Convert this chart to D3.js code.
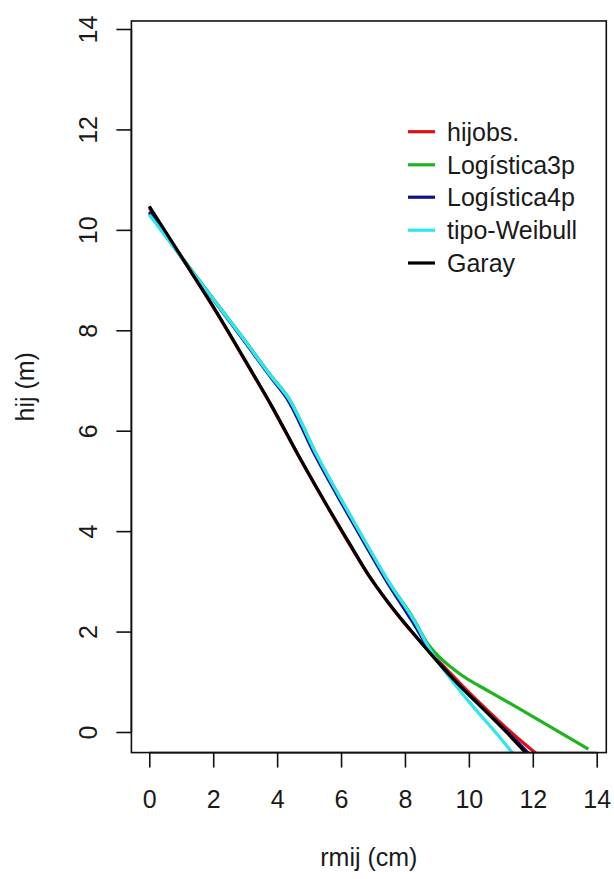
<!DOCTYPE html>
<html>
<head>
<meta charset="utf-8">
<script src="https://cdn.jsdelivr.net/npm/d3@7"></script>
<style>
  body { margin: 0; background: #fff; }
  text { font-family: "Liberation Sans", Arial, sans-serif; fill: #1a1a1a; }
</style>
</head>
<body>
<div id="chart"></div>
<script>
const WIDTH = 614;
const HEIGHT = 879;
const FONT_SIZE = 25;
const LINE_WIDTH = 3.2;

// tick values on both axes
const X_TICKS = [0, 2, 4, 6, 8, 10, 12, 14];
const Y_TICKS = [0, 2, 4, 6, 8, 10, 12, 14];

// series names and colors (legend order)
const SERIES_NAMES = ['hijobs.', 'Logística3p', 'Logística4p', 'tipo-Weibull', 'Garay'];
const SERIES_COLORS = ['#e01010', '#1fb41f', '#10108a', '#2ee6f0', '#000000'];

// [rmij (cm), hij (m)]
const HIJOBS = [[0, 10.44], [1, 9.46], [2, 8.46], [3, 7.39], [3.85, 6.46], [4.7, 5.46], [5.55, 4.51],
  [6.25, 3.75], [6.85, 3.13], [7.45, 2.6], [8.16, 2.03], [9.0, 1.45], [9.8, 0.92], [10.6, 0.42],
  [11.4, -0.05], [12.2, -0.48]];
const LOGISTICA3P = [[0, 10.33], [1, 9.47], [2, 8.63], [3, 7.79], [3.85, 7.06], [4.35, 6.66], [5.25, 5.5],
  [6.1, 4.52], [6.8, 3.74], [7.45, 3.03], [8.3, 2.22], [8.7, 1.77], [9.1, 1.48], [9.8, 1.12], [10.6, 0.82],
  [11.4, 0.53], [12.5, 0.12], [13.74, -0.34]];
const LOGISTICA4P = [[0, 10.36], [1, 9.46], [2, 8.61], [3, 7.76], [3.82, 7.05], [4.3, 6.65], [5.2, 5.5],
  [6.05, 4.52], [6.75, 3.74], [7.4, 3.03], [8.25, 2.18], [8.8, 1.6], [9.4, 1.14], [10.5, 0.43],
  [11.2, 0.0], [11.92, -0.46]];
const WEIBULL = [[0, 10.3], [1, 9.46], [2, 8.62], [3, 7.78], [3.85, 7.05], [4.35, 6.65], [5.25, 5.5],
  [6.1, 4.52], [6.8, 3.74], [7.45, 3.03], [8.3, 2.2], [8.8, 1.62], [9.5, 1.0], [10.14, 0.5],
  [10.8, 0.02], [11.42, -0.46]];
const GARAY = [[0, 10.47], [1, 9.47], [2, 8.47], [3, 7.4], [3.85, 6.47], [4.7, 5.47], [5.55, 4.52],
  [6.25, 3.77], [6.85, 3.14], [7.45, 2.6], [8.16, 2.04], [8.8, 1.56], [9.5, 1.06], [10.5, 0.43],
  [11.2, -0.02], [11.85, -0.46]];

const SERIES_DATA = [HIJOBS, LOGISTICA3P, LOGISTICA4P, WEIBULL, GARAY];

const main = () => {
  const svg = d3.select('#chart')
    .append('svg')
    .attr('width', WIDTH)
    .attr('height', HEIGHT);

  // scales: tick 0 and 14 positions
  const xScale = d3.scaleLinear().domain([0, 14]).range([149.3, 596.7]);
  const yScale = d3.scaleLinear().domain([0, 14]).range([732, 29]);

  // plot region (R pads the data range)
  const X_MIN = -0.56, X_MAX = 14.3, Y_MIN = -0.41, Y_MAX = 14.16;
  const left = xScale(X_MIN), right = xScale(X_MAX);
  const top = yScale(Y_MAX), bottom = yScale(Y_MIN);

  svg.append('clipPath')
    .attr('id', 'plot-clip')
    .append('rect')
    .attr('x', left).attr('y', top)
    .attr('width', right - left).attr('height', bottom - top);

  // curves
  const line = d3.line()
    .x(d => xScale(d[0]))
    .y(d => yScale(d[1]))
    .curve(d3.curveMonotoneX);

  const curves = svg.append('g').attr('clip-path', 'url(#plot-clip)');
  SERIES_DATA.forEach((data, i) => {
    curves.append('path')
      .datum(data)
      .attr('d', line)
      .attr('fill', 'none')
      .attr('stroke', SERIES_COLORS[i])
      .attr('stroke-width', LINE_WIDTH)
      .attr('stroke-linejoin', 'round');
  });

  // box
  svg.append('rect')
    .attr('x', left).attr('y', top)
    .attr('width', right - left).attr('height', bottom - top)
    .attr('fill', 'none')
    .attr('stroke', '#111')
    .attr('stroke-width', 1.6);

  // axes
  const xAxis = d3.axisBottom(xScale).tickValues(X_TICKS).tickSize(15).tickPadding(6);
  const xg = svg.append('g')
    .attr('transform', `translate(0, ${bottom})`)
    .call(xAxis);
  xg.select('.domain')
    .attr('d', `M${xScale(0)},0H${xScale(14)}`);
  xg.selectAll('line').attr('stroke', '#111').attr('stroke-width', 1.6);
  xg.selectAll('path').attr('stroke', '#111').attr('stroke-width', 1.6);
  xg.selectAll('text')
    .attr('y', 55)
    .attr('dy', null)
    .style('font-size', `${FONT_SIZE}px`)
    .style('font-family', '"Liberation Sans", Arial, sans-serif')
    .attr('fill', '#1a1a1a');

  const yAxis = d3.axisLeft(yScale).tickValues(Y_TICKS).tickSize(15);
  const yg = svg.append('g')
    .attr('transform', `translate(${left}, 0)`)
    .call(yAxis);
  yg.select('.domain')
    .attr('d', `M0,${yScale(0)}V${yScale(14)}`);
  yg.selectAll('line').attr('stroke', '#111').attr('stroke-width', 1.6);
  yg.selectAll('path').attr('stroke', '#111').attr('stroke-width', 1.6);
  yg.selectAll('.tick text')
    .attr('x', null).attr('dy', null)
    .attr('transform', `translate(${97 - left}, 0) rotate(-90)`)
    .style('text-anchor', 'middle')
    .style('font-size', `${FONT_SIZE}px`)
    .style('font-family', '"Liberation Sans", Arial, sans-serif')
    .attr('fill', '#1a1a1a');

  // axis titles
  svg.append('text')
    .attr('x', (left + right) / 2)
    .attr('y', 866)
    .style('font-size', `${FONT_SIZE}px`)
    .style('text-anchor', 'middle')
    .text('rmij (cm)');

  svg.append('text')
    .attr('transform', `translate(34, ${(top + bottom) / 2}) rotate(-90)`)
    .style('font-size', `${FONT_SIZE}px`)
    .style('text-anchor', 'middle')
    .text('hij (m)');

  // legend
  const LEGEND_Y = [131.7, 164.8, 197.2, 230.2, 263];
  const legend = svg.append('g');
  SERIES_NAMES.forEach((name, i) => {
    legend.append('line')
      .attr('x1', 408).attr('x2', 435)
      .attr('y1', LEGEND_Y[i]).attr('y2', LEGEND_Y[i])
      .attr('stroke', SERIES_COLORS[i])
      .attr('stroke-width', LINE_WIDTH);
    legend.append('text')
      .attr('x', 447)
      .attr('y', LEGEND_Y[i] + 9)
      .style('font-size', `${FONT_SIZE}px`)
      .text(name);
  });
}

main();
</script>
</body>
</html>
